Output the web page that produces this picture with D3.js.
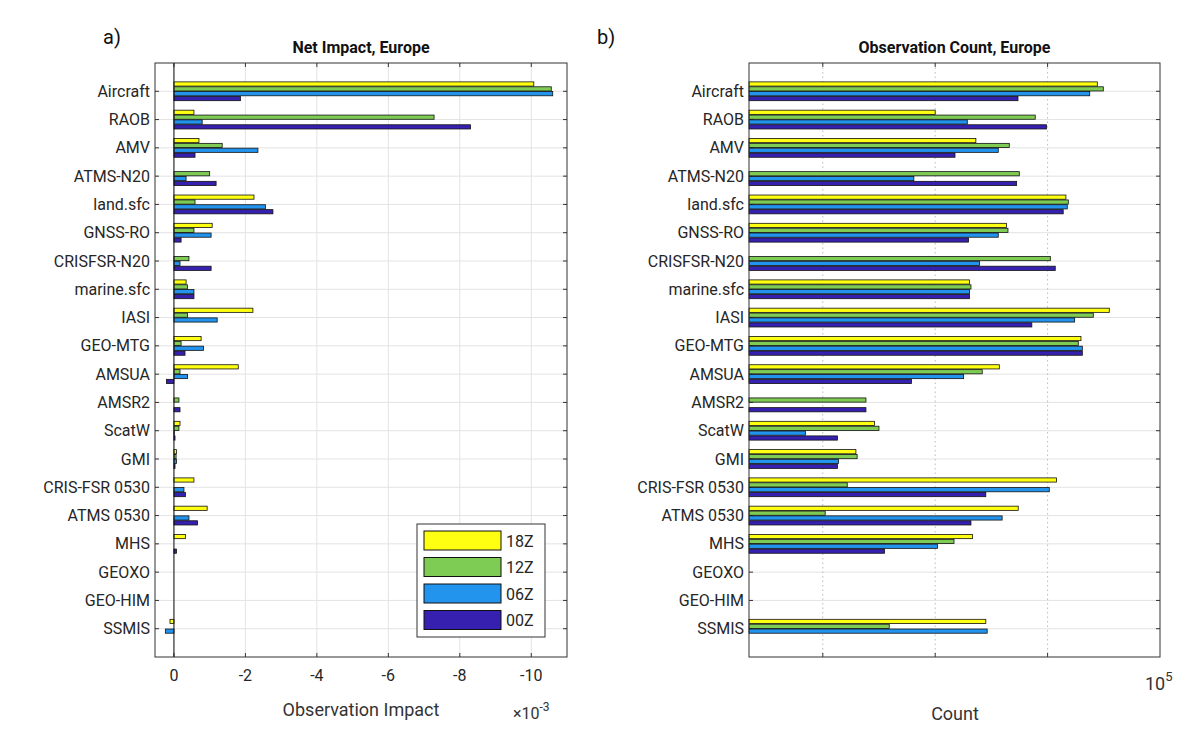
<!DOCTYPE html>
<html><head><meta charset="utf-8">
<script src="https://cdn.jsdelivr.net/npm/d3@7"></script>
<style>body{margin:0;background:#fff;font-family:Roboto,"Noto Sans",sans-serif}</style>
</head><body><svg id="chart" width="1200" height="744"></svg>
<script>
const categories = ["Aircraft","RAOB","AMV","ATMS-N20","land.sfc","GNSS-RO","CRISFSR-N20","marine.sfc","IASI","GEO-MTG","AMSUA","AMSR2","ScatW","GMI","CRIS-FSR 0530","ATMS 0530","MHS","GEOXO","GEO-HIM","SSMIS"];
const cycles = ["18Z","12Z","06Z","00Z"];
const colors = ["#ffff12","#7fcc55","#2294ee","#3620b0"];
// net impact (x1e-3), order 18Z,12Z,06Z,00Z
const impact = [
  [-10.07,-10.56,-10.6,-1.86],[-0.56,-7.28,-0.79,-8.3],[-0.7,-1.35,-2.35,-0.59],[0,-1.0,-0.34,-1.18],
  [-2.24,-0.59,-2.56,-2.77],[-1.07,-0.56,-1.04,-0.2],[0,-0.42,-0.17,-1.04],[-0.34,-0.38,-0.56,-0.56],
  [-2.21,-0.38,-1.21,0],[-0.76,-0.2,-0.83,-0.31],[-1.8,-0.17,-0.38,0.21],[0,-0.14,0,-0.17],
  [-0.17,-0.14,-0.01,-0.03],[-0.07,-0.06,-0.07,-0.03],[-0.56,0,-0.28,-0.32],[-0.93,0,-0.42,-0.66],
  [-0.32,0,0,-0.07],[0,0,0,0],[0,0,0,0],[0.11,0,0.24,0]
];
const counts = [
  [27700,31300,23700,5450],[1000,7760,1930,9770],[2300,4560,3640,1500],[0,5600,646,5300],
  [14550,15280,14960,13770],[4310,4440,3640,1980],[0,10570,2480,11700],[2020,2080,2020,2020],
  [35400,25500,17400,7240],[19800,18750,20370,20370],[3720,2620,1790,615],[0,242,0,242],
  [288,316,70,135],[197,202,138,135],[12020,165,10350,2820],[5480,105,3940,2080],
  [2150,1470,1050,354],[0,0,0,0],[0,0,0,0],[2820,390,2900,0]
];
const impactTicks = [0,-2,-4,-6,-8,-10];

const svg = d3.select("#chart");
const yTop = 63, yBot = 657;
const y = d3.scaleLinear().domain([0, categories.length + 1]).range([yTop, yBot]);
const offs = [-7.3,-2.4,2.4,7.3], bh = 4.2;

function frame(x0, x1, title, letter, lx) {
  const g = svg.append("g");
  g.selectAll(".hg").data(categories).join("line")
    .attr("x1", x0).attr("x2", x1).attr("y1", (d,i)=>y(i+1)).attr("y2", (d,i)=>y(i+1))
    .attr("stroke", "#e3e3e3");
  g.selectAll(".yl").data(categories).join("text")
    .attr("x", x0 - 5).attr("y", (d,i)=>y(i+1)).attr("dy","0.35em")
    .attr("text-anchor","end").attr("font-size",16).attr("fill","#262626").text(d=>d);
  g.selectAll(".yt").data(categories).join("path")
    .attr("d",(d,i)=>`M${x0},${y(i+1)}h4M${x1},${y(i+1)}h-4`).attr("stroke","#333");
  svg.append("text").attr("x",(x0+x1)/2).attr("y",53).attr("text-anchor","middle")
    .attr("font-size",16).attr("font-weight","bold").attr("fill","#111").text(title);
  svg.append("text").attr("x",lx).attr("y",44).attr("font-size",20).attr("fill","#111").text(letter);
  return g;
}

// Left panel
const xl = d3.scaleLinear().domain([0.53, -11.0]).range([155, 567]);
const gl = frame(155, 567, "Net Impact, Europe", "a)", 103);
gl.selectAll(".vg").data(impactTicks).join("line")
  .attr("x1",d=>xl(d)).attr("x2",d=>xl(d)).attr("y1",yTop).attr("y2",yBot).attr("stroke","#e3e3e3");
gl.selectAll(".xt").data(impactTicks).join("path")
  .attr("d",d=>`M${xl(d)},${yBot}v-4M${xl(d)},${yTop}v4`).attr("stroke","#333");
gl.selectAll(".xtl").data(impactTicks).join("text")
  .attr("x",d=>xl(d)).attr("y",681).attr("text-anchor","middle").attr("font-size",16).attr("fill","#262626").text(d=>d);
categories.forEach((c,i)=>{
  impact[i].forEach((v,j)=>{
    if (v === 0) return;
    gl.append("rect").attr("x",Math.min(xl(0),xl(v))).attr("width",Math.abs(xl(v)-xl(0)))
      .attr("y",y(i+1)+offs[j]-bh/2).attr("height",bh).attr("fill",colors[j]).attr("stroke","#111").attr("stroke-width",0.8);
  });
});
gl.append("line").attr("x1",xl(0)).attr("x2",xl(0)).attr("y1",yTop).attr("y2",yBot).attr("stroke","#111");
gl.append("rect").attr("x",155).attr("y",yTop).attr("width",412).attr("height",yBot-yTop).attr("fill","none").attr("stroke","#333");
svg.append("text").attr("x",361).attr("y",716).attr("text-anchor","middle").attr("font-size",18).attr("fill","#333").text("Observation Impact");
const ex = svg.append("text").attr("x",513).attr("y",719).attr("font-size",16).attr("fill","#333");
ex.append("tspan").text("×10");
ex.append("tspan").attr("dy",-8).attr("font-size",12).text("-3");

// legend
const leg = svg.append("g").attr("transform","translate(417,524)");
leg.append("rect").attr("width",128).attr("height",113).attr("fill","#fff").attr("stroke","#333");
cycles.forEach((c,j)=>{
  leg.append("rect").attr("x",7).attr("y",7+j*26.5).attr("width",77).attr("height",19).attr("fill",colors[j]).attr("stroke","#111");
  leg.append("text").attr("x",89).attr("y",17+j*26.5).attr("dy","0.35em").attr("font-size",16).attr("fill","#262626").text(c);
});

// Right panel
const xr = d3.scaleLog().domain([Math.pow(10, 5 - 411/112.4), 1e5]).range([749, 1160]);
const gr = frame(749, 1160, "Observation Count, Europe", "b)", 597);
const decades = [100, 1000, 10000];
gr.selectAll(".vg").data(decades).join("line")
  .attr("x1",d=>xr(d)).attr("x2",d=>xr(d)).attr("y1",yTop).attr("y2",yBot)
  .attr("stroke","#bbb").attr("stroke-dasharray","1.5,3");
gr.selectAll(".xt").data(decades).join("path")
  .attr("d",d=>`M${xr(d)},${yBot}v-4M${xr(d)},${yTop}v4`).attr("stroke","#333");
categories.forEach((c,i)=>{
  counts[i].forEach((v,j)=>{
    if (v === 0) return;
    gr.append("rect").attr("x",749).attr("width",xr(v)-749)
      .attr("y",y(i+1)+offs[j]-bh/2).attr("height",bh).attr("fill",colors[j]).attr("stroke","#111").attr("stroke-width",0.8);
  });
});
gr.append("rect").attr("x",749).attr("y",yTop).attr("width",411).attr("height",yBot-yTop).attr("fill","none").attr("stroke","#333");
const t5 = svg.append("text").attr("x",1145).attr("y",690).attr("font-size",18).attr("fill","#333");
t5.append("tspan").text("10");
t5.append("tspan").attr("dy",-9).attr("font-size",13).text("5");
svg.append("text").attr("x",955).attr("y",720).attr("text-anchor","middle").attr("font-size",18).attr("fill","#333").text("Count");
</script></body></html>
